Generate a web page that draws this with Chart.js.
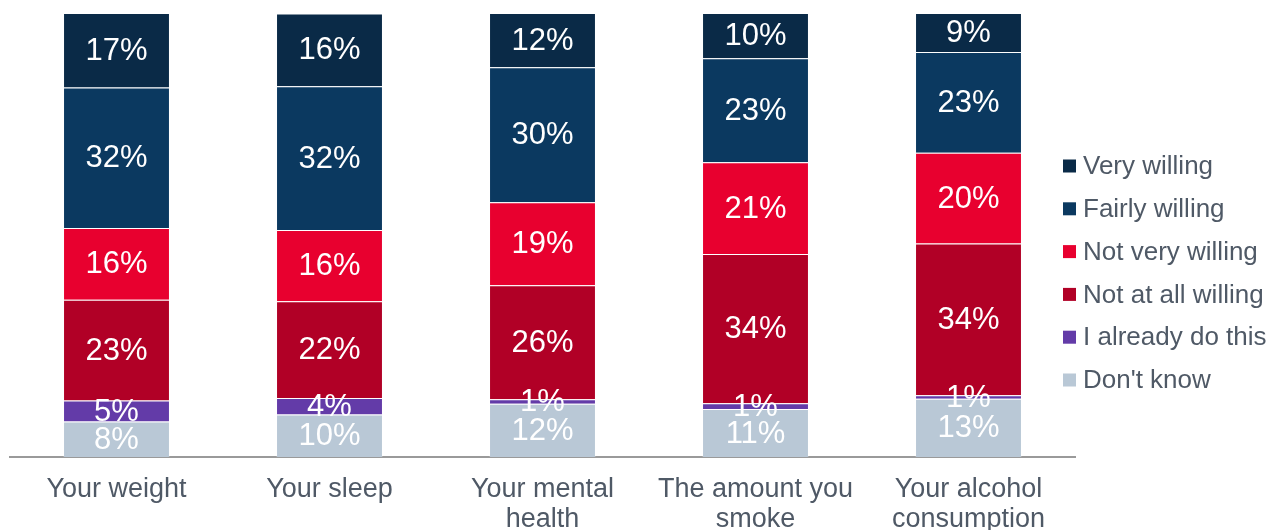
<!DOCTYPE html>
<html>
<head>
<meta charset="utf-8">
<script src="https://cdn.jsdelivr.net/npm/chart.js@4"></script>
<style>
  html, body { margin: 0; padding: 0; background: #fff; }
  #wrap { width: 1272px; height: 530px; position: relative; }
</style>
</head>
<body>
<div id="wrap"><canvas id="chart"></canvas></div>
<script>
// categories (x axis), multi-line labels as in the original
var categories = [["Your weight"], ["Your sleep"], ["Your mental", "health"], ["The amount you", "smoke"], ["Your alcohol", "consumption"]];

// series values in %, bottom of the stack first
var dontKnow  = [8.0, 9.6, 12.0, 10.8, 13.1];
var alreadyDo = [4.7, 3.7, 1.0, 1.3, 0.8];
var notAtAll  = [22.7, 21.8, 25.7, 33.6, 34.2];
var notVery   = [16.2, 16.0, 18.7, 20.7, 20.4];
var fairly    = [31.6, 32.4, 30.4, 23.4, 22.7];
var very      = [16.8, 16.4, 12.2, 10.2, 8.8];

var seriesNames = ["Don't know", "I already do this", "Not at all willing", "Not very willing", "Fairly willing", "Very willing"];
var seriesColors = ["#b9c8d6", "#633ba8", "#b10026", "#e8002f", "#0b3960", "#0a2a47"];
var seriesValues = [dontKnow, alreadyDo, notAtAll, notVery, fairly, very];

var textGrey = "#4f5966";
var fontName = "'Liberation Sans', Arial, sans-serif";

//Write the rounded % in the middle of every segment
var barLabels = {
    id: 'barLabels',
    afterDatasetsDraw: function (chart) {
        var ctx = chart.ctx;
        ctx.save();
        ctx.font = "31px " + fontName;
        ctx.fillStyle = "#ffffff";
        ctx.textAlign = "center";
        ctx.textBaseline = "middle";
        chart.data.datasets.forEach(function (ds, i) {
            var meta = chart.getDatasetMeta(i);
            meta.data.forEach(function (bar, j) {
                var y = (bar.y + bar.base) / 2;
                ctx.fillText(Math.round(ds.data[j]) + "%", bar.x, y + 1);
            });
        });
        ctx.restore();
    }
};

//Legend drawn by hand so it can sit over the right end of the axis line
var sideLegend = {
    id: 'sideLegend',
    afterDraw: function (chart) {
        var ctx = chart.ctx;
        ctx.save();
        ctx.font = "26px " + fontName;
        ctx.textBaseline = "middle";
        ctx.textAlign = "left";
        var y = 166;
        for (var i = chart.data.datasets.length - 1; i >= 0; i--) {
            var ds = chart.data.datasets[i];
            ctx.fillStyle = ds.backgroundColor;
            ctx.fillRect(1063, y - 6.5, 13, 13);
            ctx.fillStyle = textGrey;
            ctx.fillText(ds.label, 1083, y + 1);
            y += 42.8;
        }
        ctx.restore();
    }
};

var datasets = [];
for (var i = 0; i < seriesValues.length; i++) {
    datasets.push({
        label: seriesNames[i],
        data: seriesValues[i],
        backgroundColor: seriesColors[i],
        borderColor: "rgba(255,255,255,0.18)",
        borderWidth: 1,
        barPercentage: 1,
        categoryPercentage: 0.502
    });
}

new Chart(document.getElementById("chart"), {
    type: 'bar',
    data: { labels: categories, datasets: datasets },
    options: {
        responsive: true,
        maintainAspectRatio: false,
        animation: false,
        layout: { padding: { top: 13, left: 10, right: 197, bottom: 0 } },
        plugins: {
            legend: { display: false },
            tooltip: { enabled: false }
        },
        scales: {
            x: {
                stacked: true,
                grid: { display: false, drawTicks: false },
                border: { display: true, color: "#9a9a9a", width: 2 },
                ticks: {
                    color: textGrey,
                    font: { family: fontName, size: 27, lineHeight: 1.1 },
                    padding: 18,
                    maxRotation: 0,
                    autoSkip: false
                },
                afterFit: function (scale) { scale.height = 73; }
            },
            y: {
                stacked: true,
                display: false,
                min: 0,
                max: 100
            }
        }
    },
    plugins: [barLabels, sideLegend]
});
</script>
</body>
</html>
